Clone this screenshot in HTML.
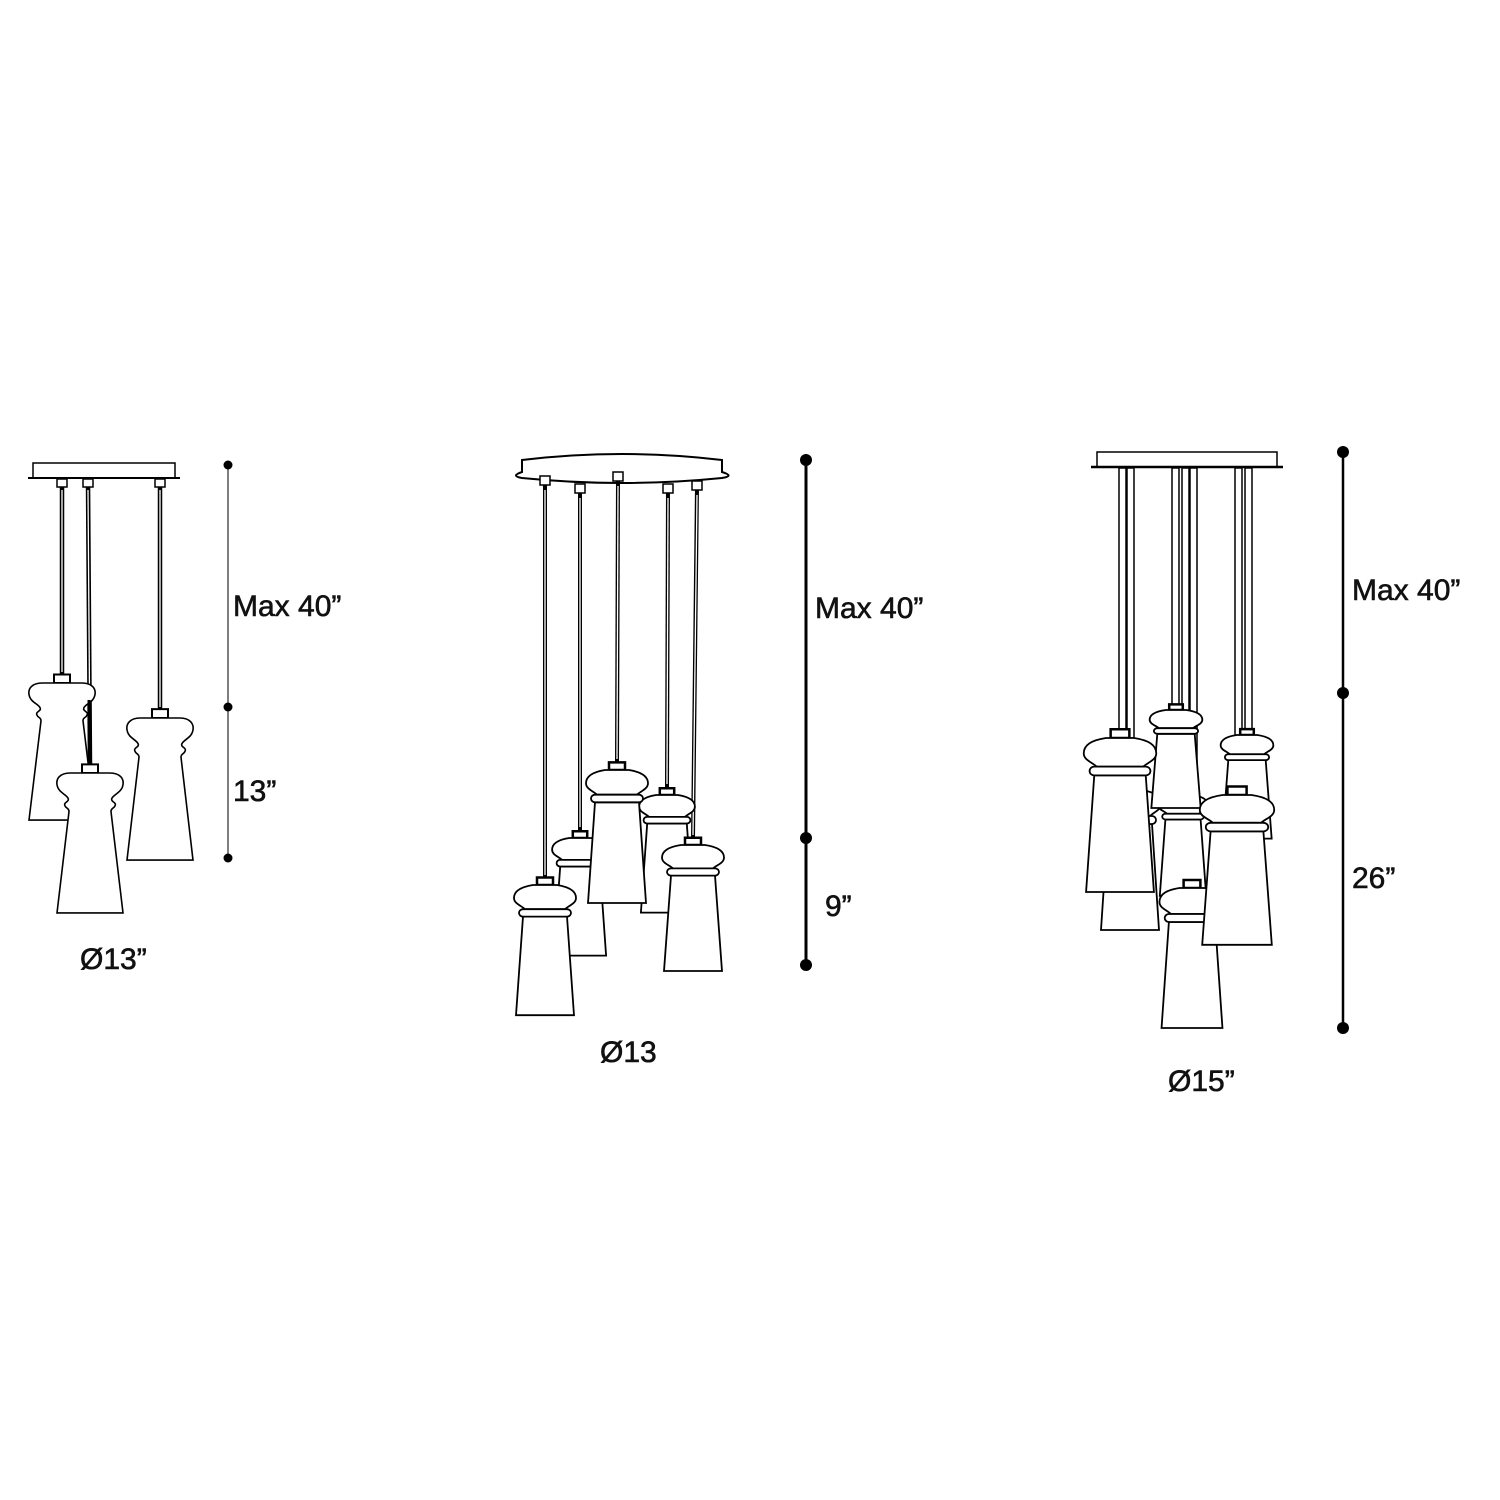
<!DOCTYPE html>
<html><head><style>html,body{margin:0;padding:0;background:#fff}svg{display:block}text{font-family:"Liberation Sans",sans-serif;fill:#111;stroke:#111;stroke-width:0.6}</style></head>
<body>
<svg width="1500" height="1500" viewBox="0 0 1500 1500" xmlns="http://www.w3.org/2000/svg">
<defs>
<g id="la">
<rect x="-8" y="-9" width="16" height="9" fill="#fff" stroke="#000" stroke-width="2" vector-effect="non-scaling-stroke"/>
<path d="M-20,0 C-30,0 -34,6 -33,12 C-32,20 -24,22 -22,26 C-20,30 -27,30 -25,34 C-24,37 -21,36 -21,40 L-33,145 L33,145 L21,40 C21,36 24,37 25,34 C27,30 20,30 22,26 C24,22 32,20 33,12 C34,6 30,0 20,0Z" fill="#fff" stroke="#000" stroke-width="1.6" vector-effect="non-scaling-stroke"/>
</g>
<g id="lb">
<rect x="-8" y="-8" width="16" height="8" fill="#fff" stroke="#000" stroke-width="2.5" vector-effect="non-scaling-stroke"/>
<path d="M-22,34 L22,34 L29,140 L-29,140 Z" fill="#fff" stroke="#000" stroke-width="1.8" vector-effect="non-scaling-stroke"/>
<path d="M-12,0 L12,0 C24,2 31,6 31,14 C31,20 24,22 20,26 L-20,26 C-24,22 -31,20 -31,14 C-31,6 -24,2 -12,0Z" fill="#fff" stroke="#000" stroke-width="1.8" vector-effect="non-scaling-stroke"/>
<rect x="-26" y="26" width="52" height="8" rx="4" fill="#fff" stroke="#000" stroke-width="1.8" vector-effect="non-scaling-stroke"/>
</g>
</defs>

<!-- Group 1 -->
<g stroke="#000" fill="none">
<rect x="33" y="463" width="142" height="15" stroke-width="1.5" fill="#fff"/>
<line x1="28" y1="478" x2="180" y2="478" stroke-width="2"/>
<g stroke-width="4.5"><line x1="62" y1="482" x2="62" y2="675"/><line x1="88" y1="482" x2="90" y2="765"/><line x1="160" y1="482" x2="160" y2="710"/></g>
<g stroke="#fff" stroke-width="1.3"><line x1="62" y1="490" x2="62" y2="672"/><line x1="88" y1="490" x2="90" y2="762"/><line x1="160" y1="490" x2="160" y2="707"/></g>
<g fill="#fff" stroke-width="1.5"><rect x="57" y="479" width="10" height="8"/><rect x="83" y="479" width="10" height="8"/><rect x="155" y="479" width="10" height="8"/></g>
</g>
<use href="#la" transform="translate(62,683) scale(1,0.945)"/>
<use href="#la" transform="translate(160,718) scale(1,0.98)"/>
<line x1="89" y1="700" x2="90" y2="765" stroke="#000" stroke-width="3"/>
<use href="#la" transform="translate(90,773) scale(1,0.965)"/>
<line x1="228" y1="465" x2="228" y2="858" stroke="#555" stroke-width="1.5"/>
<circle cx="228" cy="465" r="4.5"/><circle cx="228" cy="707" r="4.5"/><circle cx="228" cy="858" r="4.5"/>
<text x="233" y="616" font-size="30">Max 40”</text>
<text x="233" y="801" font-size="30">13”</text>
<text x="80" y="969" font-size="30">Ø13”</text>

<!-- Group 2 -->
<g stroke="#000">
<path d="M522,460 Q622,448 722,460 L722,472 Q735,476 722,478 Q622,488 522,478 Q510,476 522,472Z" fill="#fff" stroke-width="2"/>
<g stroke-width="4"><line x1="545" y1="482" x2="545" y2="878"/><line x1="580" y1="490" x2="580" y2="830"/><line x1="618" y1="478" x2="617" y2="762"/><line x1="668" y1="490" x2="667" y2="787"/><line x1="697" y1="487" x2="693" y2="838"/></g>
<g stroke="#fff" stroke-width="1.3"><line x1="545" y1="490" x2="545" y2="875"/><line x1="580" y1="498" x2="580" y2="827"/><line x1="618" y1="486" x2="617" y2="759"/><line x1="668" y1="498" x2="667" y2="784"/><line x1="697" y1="495" x2="693" y2="835"/></g>
<g fill="#fff" stroke-width="1.5"><rect x="540" y="476" width="10" height="9"/><rect x="575" y="484" width="10" height="9"/><rect x="613" y="472" width="10" height="9"/><rect x="663" y="484" width="10" height="9"/><rect x="692" y="481" width="10" height="9"/></g>
</g>
<use href="#lb" transform="translate(580,838) scale(0.9,0.84)"/>
<use href="#lb" transform="translate(667,795) scale(0.9,0.84)"/>
<use href="#lb" transform="translate(617,770) scale(1,0.95)"/>
<use href="#lb" transform="translate(545,885) scale(1,0.93)"/>
<use href="#lb" transform="translate(693,845) scale(1,0.9)"/>
<line x1="806" y1="460" x2="806" y2="965" stroke="#000" stroke-width="3"/>
<circle cx="806" cy="460" r="6"/><circle cx="806" cy="838" r="6"/><circle cx="806" cy="965" r="6"/>
<text x="815" y="618" font-size="30">Max 40”</text>
<text x="825" y="916" font-size="30">9”</text>
<text x="600" y="1062" font-size="30">Ø13</text>

<!-- Group 3 -->
<g stroke="#000">
<rect x="1097" y="452" width="180" height="15" stroke-width="1.5" fill="#fff"/>
<line x1="1091" y1="467" x2="1283" y2="467" stroke-width="2.5"/>
<g fill="#fff" stroke-width="1.5">
<rect x="1119" y="468" width="7" height="270"/><rect x="1127" y="468" width="7" height="270"/>
<rect x="1172" y="468" width="7" height="240"/><rect x="1182" y="468" width="7" height="330"/><rect x="1190" y="468" width="7" height="330"/>
<rect x="1235" y="468" width="7" height="325"/><rect x="1245" y="468" width="7" height="262"/>
</g>
</g>
<use href="#lb" transform="translate(1247,735) scale(0.85,0.74)"/>
<use href="#lb" transform="translate(1130,790) scale(1,1.0)"/>
<use href="#lb" transform="translate(1183,795) scale(0.8,0.72)"/>
<use href="#lb" transform="translate(1192,888) scale(1.05,1.0)"/>
<use href="#lb" transform="translate(1176,710) scale(0.85,0.7)"/>
<use href="#lb" transform="translate(1120,738) scale(1.17,1.1)"/>
<use href="#lb" transform="translate(1237,795) scale(1.2,1.07)"/>
<line x1="1343" y1="452" x2="1343" y2="1028" stroke="#000" stroke-width="2.5"/>
<circle cx="1343" cy="452" r="6"/><circle cx="1343" cy="693" r="6"/><circle cx="1343" cy="1028" r="6"/>
<text x="1352" y="600" font-size="30">Max 40”</text>
<text x="1352" y="888" font-size="30">26”</text>
<text x="1168" y="1091" font-size="30">Ø15”</text>
</svg>
</body></html>
